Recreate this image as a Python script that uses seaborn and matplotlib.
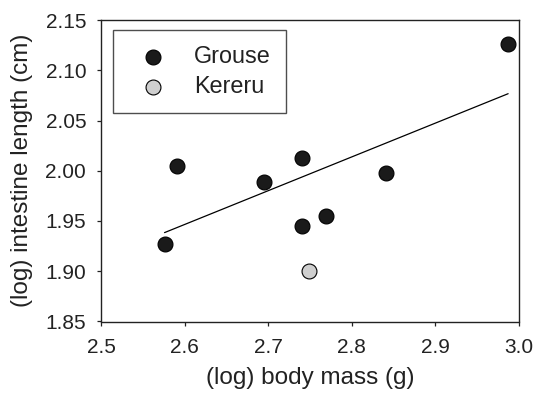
import matplotlib
matplotlib.use("Agg")
import matplotlib.pyplot as plt
import seaborn as sns
import pandas as pd

# Data
grouse_mass = [2.576, 2.591, 2.695, 2.741, 2.741, 2.769, 2.841, 2.987]
grouse_len = [1.927, 2.0045, 1.989, 2.0125, 1.9447, 1.9546, 1.9978, 2.1258]
kereru_mass = [2.749]
kereru_len = [1.900]
x_ticks = [2.5, 2.6, 2.7, 2.8, 2.9, 3.0]
y_ticks = [1.85, 1.90, 1.95, 2.00, 2.05, 2.10, 2.15]

sns.set_style("ticks")
plt.rcParams['font.family'] = ['Liberation Sans', 'DejaVu Sans']

df_g = pd.DataFrame({"mass": grouse_mass, "len": grouse_len})
df_k = pd.DataFrame({"mass": kereru_mass, "len": kereru_len})

fig = plt.figure(figsize=(5.36, 3.94), dpi=100)
ax = fig.add_axes([101/536, 1-321.5/394, 418/536, 301.5/394])

sns.regplot(data=df_g, x="mass", y="len", ax=ax, scatter=False, ci=None,
            truncate=True, line_kws=dict(color="black", lw=0.9), label="_nolegend_")
sns.scatterplot(data=df_g, x="mass", y="len", ax=ax, color="#1a1a1a",
                edgecolor="black", s=115, linewidth=0.8, label="Grouse", zorder=3,
                clip_on=False)
sns.scatterplot(data=df_k, x="mass", y="len", ax=ax, color="#cfcfcf",
                edgecolor="black", s=115, linewidth=0.8, label="Kereru", zorder=3,
                clip_on=False)

ax.set_xlim(2.5, 3.0)
ax.set_ylim(1.85, 2.15)
ax.set_xticks(x_ticks)
ax.set_xticklabels([f"{v:.1f}" for v in x_ticks])
ax.set_yticks(y_ticks)
ax.set_yticklabels([f"{v:.2f}" for v in y_ticks])
ax.tick_params(direction="out", length=3.2, width=0.9, labelsize=15,
               colors="#222222", labelcolor="#222222")
ax.tick_params(axis="x", pad=9)
ax.tick_params(axis="y", pad=7.5)
for s in ["top", "right", "left", "bottom"]:
    ax.spines[s].set_visible(True)
    ax.spines[s].set_linewidth(1.0)
    ax.spines[s].set_color("#222222")

ax.set_xlabel("(log) body mass (g)", fontsize=17.5, labelpad=7, color="#222222")
ax.set_ylabel("(log) intestine length (cm)", fontsize=17.5, labelpad=9, color="#222222")

leg = ax.legend(loc="upper left", bbox_to_anchor=(0.028, 0.967), frameon=True,
                fancybox=False, edgecolor="#222222", fontsize=16.8,
                handletextpad=0.63, borderpad=0.65, labelspacing=0.29,
                borderaxespad=0, handlelength=2.19, markerscale=1.0)
leg.get_frame().set_linewidth(1.0)
for t in leg.get_texts():
    t.set_color("#222222")

fig.savefig("out.png", dpi=100)
